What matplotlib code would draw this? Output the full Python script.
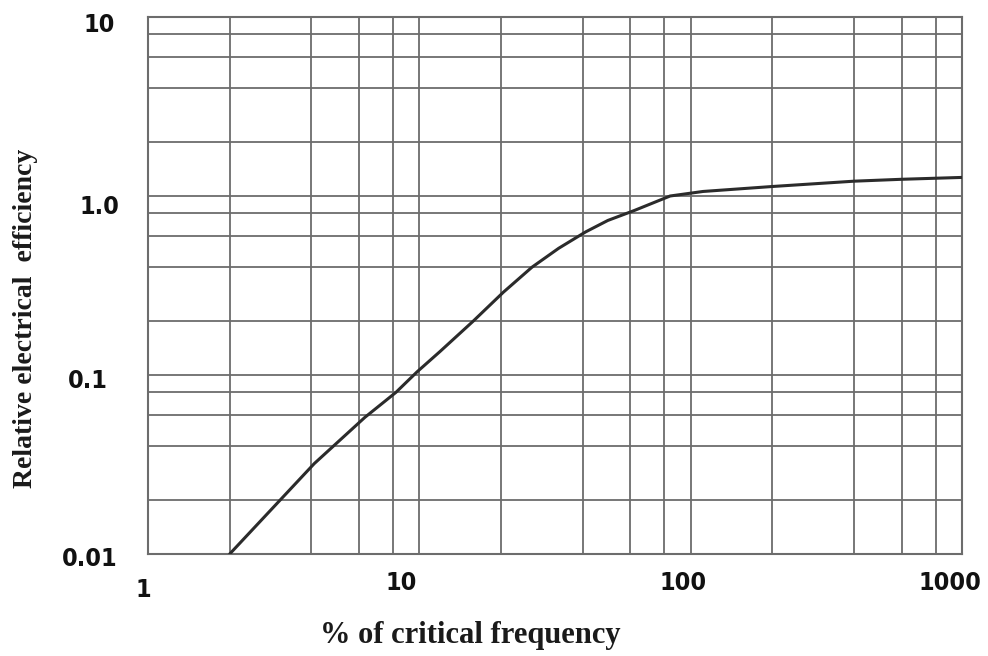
import matplotlib.pyplot as plt
import matplotlib.transforms as mtransforms
import numpy as np

plt.rcParams['font.family'] = ['DejaVu Sans']

# efficiency curve (log-log)
freq = [2.0, 4.1, 6.3, 8.2, 9.8, 11.9, 15.8, 20.4, 26, 32.6, 41, 49.5, 62, 84,
        111, 200, 400, 600, 1000]
eff = [0.010, 0.032, 0.058, 0.080, 0.104, 0.135, 0.20, 0.29, 0.40, 0.51, 0.63,
       0.73, 0.83, 1.0, 1.06, 1.13, 1.21, 1.24, 1.27]

x_major = [1, 10, 100, 1000]
x_labels = ['1', '10', '100', '1000']
y_major = [0.01, 0.1, 1.0, 10]
y_labels = ['0.01', '0.1', '1.0', '10']
mults = [2, 4, 6, 8]

grid_c = '#6c6c6c'

fig = plt.figure(figsize=(9.88, 6.56), dpi=100)
ax = fig.add_axes([148 / 988, 1 - 554 / 656, 814 / 988, 537 / 656])
ax.set_xscale('log')
ax.set_yscale('log')
ax.set_xlim(1, 1000)
ax.set_ylim(0.01, 10)

ax.plot(freq, eff, color='#2b2b2b', linewidth=2.2, solid_capstyle='round',
        solid_joinstyle='round', zorder=3)

x_minor = [m * d for d in x_major[:-1] for m in mults]
y_minor = [m * d for d in y_major[:-1] for m in mults]
ax.set_xticks(x_major)
ax.set_xticklabels(x_labels)
ax.set_xticks(x_minor, minor=True)
ax.set_xticklabels([], minor=True)
ax.set_yticks(y_major)
ax.set_yticklabels(y_labels)
ax.set_yticks(y_minor, minor=True)
ax.set_yticklabels([], minor=True)

ax.grid(True, which='both', color=grid_c, linewidth=1.3)
ax.tick_params(which='both', length=0)
ax.tick_params(axis='x', pad=12, labelsize=18)
ax.tick_params(axis='y', pad=23, labelsize=18)
for lab in ax.get_xticklabels() + ax.get_yticklabels():
    lab.set_fontweight('bold')
    lab.set_fontstretch('condensed')
    lab.set_color('#111111')

# hand-set label offsets in pixels (dx, dy)
x_shift = [(-5, -7), (-18, 0), (-8, 0), (-12, 0)]
y_shift = [(1, -2), (-8, -3), (3, -9), (-1, -5)]


def nudge(lab, dx, dy):
    lab.set_transform(lab.get_transform() +
                      mtransforms.ScaledTranslation(dx / 100, dy / 100,
                                                    fig.dpi_scale_trans))


for lab, (dx, dy) in zip(ax.get_xticklabels(), x_shift):
    nudge(lab, dx, dy)
for lab, (dx, dy) in zip(ax.get_yticklabels(), y_shift):
    nudge(lab, dx, dy)

for s in ax.spines.values():
    s.set_color(grid_c)
    s.set_linewidth(1.5)

serif = ['Liberation Serif', 'DejaVu Serif']
ax.set_xlabel('% of critical frequency', family=serif, fontsize=22,
              fontweight='bold', color='#1a1a1a', va='center')
ax.xaxis.set_label_coords(0.396, (554 - 636) / 537)
ax.set_ylabel('Relative electrical  efficiency', family=serif, fontsize=20,
              fontweight='bold', color='#1a1a1a', va='center')
ax.yaxis.set_label_coords((25 - 148) / 814, (554 - 318) / 537)

fig.savefig('out.png', dpi=100)
